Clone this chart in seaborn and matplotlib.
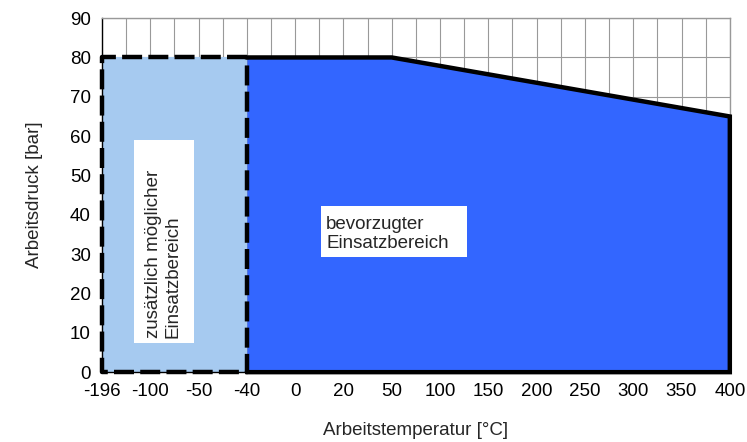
import numpy as np
import pandas as pd
import seaborn as sns
import matplotlib.pyplot as plt
from matplotlib.patches import Rectangle
from matplotlib.ticker import MultipleLocator

# Daten
temps = ["-196", "-100", "-50", "-40", "0", "20", "50",
         "100", "150", "200", "250", "300", "350", "400"]
# zusätzlich möglicher Bereich (Ecken)
extra_t = ["-196", "-40"]
extra_p = [80, 80]
# bevorzugter Bereich (Knickpunkte der Oberkante)
pref_t = ["-40", "50", "400"]
pref_p = [80, 80, 65]

sns.set_theme(style="white", rc={
    "axes.edgecolor": "#999999",
    "axes.linewidth": 1.0,
    "grid.color": "#999999",
    "grid.linewidth": 0.8,
    "xtick.color": "black",
    "ytick.color": "black",
})
plt.rcParams["font.family"] = ["Liberation Sans", "DejaVu Sans"]

pos = {t: i for i, t in enumerate(temps)}
extra = pd.DataFrame({"x": [pos[t] for t in extra_t], "p": extra_p})
pref = pd.DataFrame({"x": [pos[t] for t in pref_t], "p": pref_p})

fig = plt.figure(figsize=(7.47, 4.42), dpi=100)
ax = fig.add_axes([0.1365, 0.158, 0.8405, 0.801])

# Gitter
ax.set_axisbelow(True)
ax.xaxis.set_major_locator(MultipleLocator(1))
ax.xaxis.set_minor_locator(MultipleLocator(0.5))
ax.yaxis.set_major_locator(MultipleLocator(10))
ax.yaxis.set_minor_locator(MultipleLocator(5))
ax.grid(True, which="both", axis="x")
ax.grid(True, which="major", axis="y")

# Flächen
ax.fill_between(extra["x"], 0, extra["p"], color="#A6CAF0", lw=0, zorder=2)
ax.fill_between(pref["x"], 0, pref["p"], color="#3366FF", lw=0, zorder=2)

# Umrandung bevorzugter Bereich
x0, x1 = pref["x"].iloc[0], pref["x"].iloc[-1]
sns.lineplot(x=list(pref["x"]) + [x1, x0], y=list(pref["p"]) + [0, 0],
             sort=False, estimator=None, color="black", lw=3.2, ax=ax,
             zorder=4, solid_joinstyle="miter", clip_on=False)

# gestrichelte Umrandung zusätzlicher Bereich
e0, e1 = extra["x"].iloc[0], extra["x"].iloc[-1]
ep = extra["p"].iloc[0]
ax.plot([e1, e0, e0, e1, e1], [ep, ep, 0, 0, ep], color="black", lw=3.2,
        dashes=(4.5, 1.4), zorder=5, clip_on=False)

ax.set_xlim(0, len(temps) - 1)
ax.set_ylim(0, 90)
ax.set_xticks(range(len(temps)))
ax.set_xticklabels(temps)

ax.tick_params(axis="both", which="major", direction="out", length=4,
               width=1, labelsize=13.5, pad=4)
ax.tick_params(axis="both", which="minor", direction="out", length=3,
               width=1, color="#999999")
ax.tick_params(axis="both", which="major", color="#999999")

for s in ["left", "bottom"]:
    ax.spines[s].set_color("black")

ax.set_xlabel("Arbeitstemperatur [°C]", fontsize=13.5, labelpad=16)
ax.set_ylabel("Arbeitsdruck [bar]", fontsize=13.5, labelpad=19)

# Beschriftungen (weiße Kästen)
ax.add_patch(Rectangle((0.051, 0.082), 0.0955, 0.573, transform=ax.transAxes,
                       facecolor="white", edgecolor="none", zorder=6))
ax.text(0.068, 0.096, "zusätzlich möglicher\nEinsatzbereich", rotation=90,
        ha="left", va="bottom", multialignment="left", fontsize=13.5,
        linespacing=1.2, transform=ax.transAxes, zorder=7)
ax.add_patch(Rectangle((0.349, 0.325), 0.232, 0.144, transform=ax.transAxes,
                       facecolor="white", edgecolor="none", zorder=6))
ax.text(0.357, 0.390, "bevorzugter\nEinsatzbereich", ha="left", va="center",
        fontsize=13.5, linespacing=1.2, transform=ax.transAxes, zorder=7)

fig.savefig("out.png", dpi=100)
